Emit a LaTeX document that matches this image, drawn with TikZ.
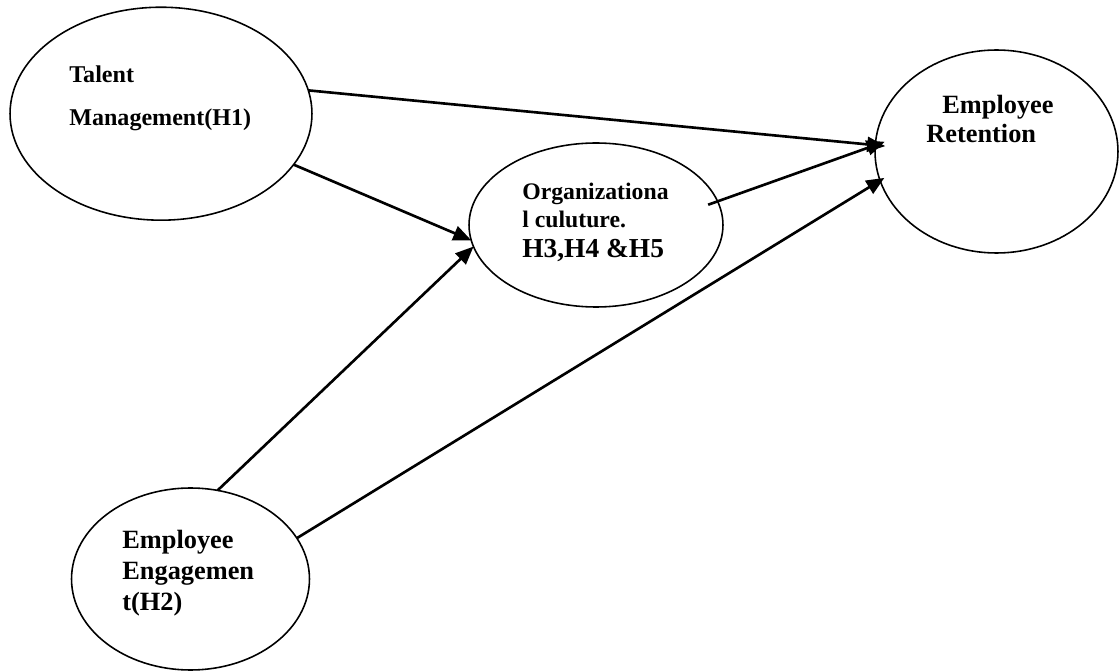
\documentclass[tikz,border=0pt]{standalone}
\usepackage{fontspec}
\setmainfont{Liberation Serif}
\usepackage{tikz}
\usetikzlibrary{shapes.geometric,arrows.meta}

\begin{document}
\begin{tikzpicture}[x=0.02cm,y=-0.02cm,
  oval/.style={draw,ellipse,line width=0.9pt,inner sep=0pt,outer sep=0pt},
  lbl/.style={anchor=north west,inner sep=0pt,align=left},
  arr/.style={line width=1.5pt,-{Triangle[length=3.6mm,width=3mm]}}]
\useasboundingbox (0,0) rectangle (1120,672);
\node[oval,minimum width=6.04cm,minimum height=4.26cm] (tm) at (161,113.7) {};
\node[oval,minimum width=5.08cm,minimum height=3.28cm] (oc) at (596,225) {};
\node[oval,minimum width=4.86cm,minimum height=4.06cm] (er) at (996.5,151.5) {};
\node[oval,minimum width=4.76cm,minimum height=3.64cm] (ee) at (190.5,579) {};
\node[lbl,font=\bfseries\fontsize{13.7}{24.4}\selectfont] (tmtext) at (69,65.6)
  {Talent\\Management(H1)};
\node[lbl,font=\bfseries\fontsize{13.5}{15.9}\selectfont] (octext) at (522,182.8)
  {Organizationa\\l culuture.\\[1.1pt]{\fontsize{15.6}{17}\selectfont H3,H4 \&H5}};
\node[lbl,font=\bfseries\fontsize{15}{16.4}\selectfont] (ertext) at (926,95)
  {\hspace{0.32cm}Employee\\Retention};
\node[lbl,font=\bfseries\fontsize{15}{17.6}\selectfont] (eetext) at (122,530)
  {Employee\\Engagemen\\t(H2)};
\draw[arr,shorten >=-2mm] (tm.9.7) -- (er.177.7);
\draw[arr] (tm.-21.7) -- (oc.187.5);
\draw[arr] (ee.73.4) -- (oc.190);
\draw[arr,shorten >=-1mm] (ee.21.5) -- (er.194.1);
\draw[arr,shorten <=-2mm,shorten >=-2mm] (oc.11.7) -- (er.177.7);
\end{tikzpicture}
\end{document}
